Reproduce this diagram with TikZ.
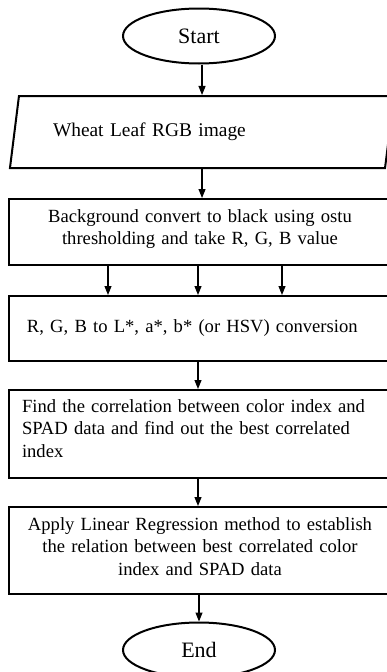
\documentclass[tikz,border=0pt]{standalone}
\usepackage{fontspec}
\setmainfont{Liberation Serif}
\usetikzlibrary{shapes.geometric,arrows.meta}

\begin{document}
\begin{tikzpicture}[x=1pt,y=-1pt,
  every node/.style={font=\fontsize{18.6}{22.5}\selectfont},
  term/.style={draw,line width=2pt,ellipse,minimum width=152pt,minimum height=55pt,inner sep=0pt,
    font=\fontsize{22}{24}\selectfont},
  io/.style={draw,line width=2pt,trapezium,trapezium left angle=73,trapezium right angle=107,
    trapezium stretches=true,minimum width=386pt,minimum height=72pt,font=\fontsize{19.4}{22}\selectfont},
  proc/.style={draw,line width=2pt,rectangle,minimum width=382pt,text width=360pt},
  flow/.style={line width=1.1pt,-{Triangle[length=9pt,width=7pt]}}]
  \useasboundingbox (0,0) rectangle (387,672);
  \node[term] (start) at (199,36) {Start};
  \node[io,text width=298pt,align=left] (input) at (202,132) {Wheat Leaf RGB image};
  \node[proc,minimum height=66pt,align=center,text depth=32.7pt] (bgconv) at (200,232)
    {Background convert to black using ostu\\thresholding and take R, G, B value};
  \node[proc,minimum height=65pt,text width=346pt,align=left] (conv) at (200,328.5)
    {R, G, B to L*, a*, b* (or HSV) conversion};
  \node[proc,minimum height=88pt,text width=356pt,align=left,text depth=56.7pt] (corr) at (200,434)
    {Find the correlation between color index and\\SPAD data and find out the best correlated\\index};
  \node[proc,minimum height=87pt,align=center,text depth=53.7pt] (regr) at (200,550.5)
    {Apply Linear Regression method to establish\\the relation between best correlated color\\index and SPAD data};
  \node[term] (finish) at (199,650) {End};
  \draw[flow] (start.south -| input.north) -- (input.north);
  \draw[flow] (input.south) -- (input.south |- bgconv.north);
  \foreach \dx in {-92,-2,82}
    \draw[flow] ([xshift=\dx]bgconv.south) -- ([xshift=\dx]conv.north);
  \draw[flow] ([xshift=-2]conv.south) -- ([xshift=-2]corr.north);
  \draw[flow] ([xshift=-2]corr.south) -- ([xshift=-2]regr.north);
  \draw[flow] ([xshift=-1]regr.south) -- (finish.north);
\end{tikzpicture}
\end{document}
